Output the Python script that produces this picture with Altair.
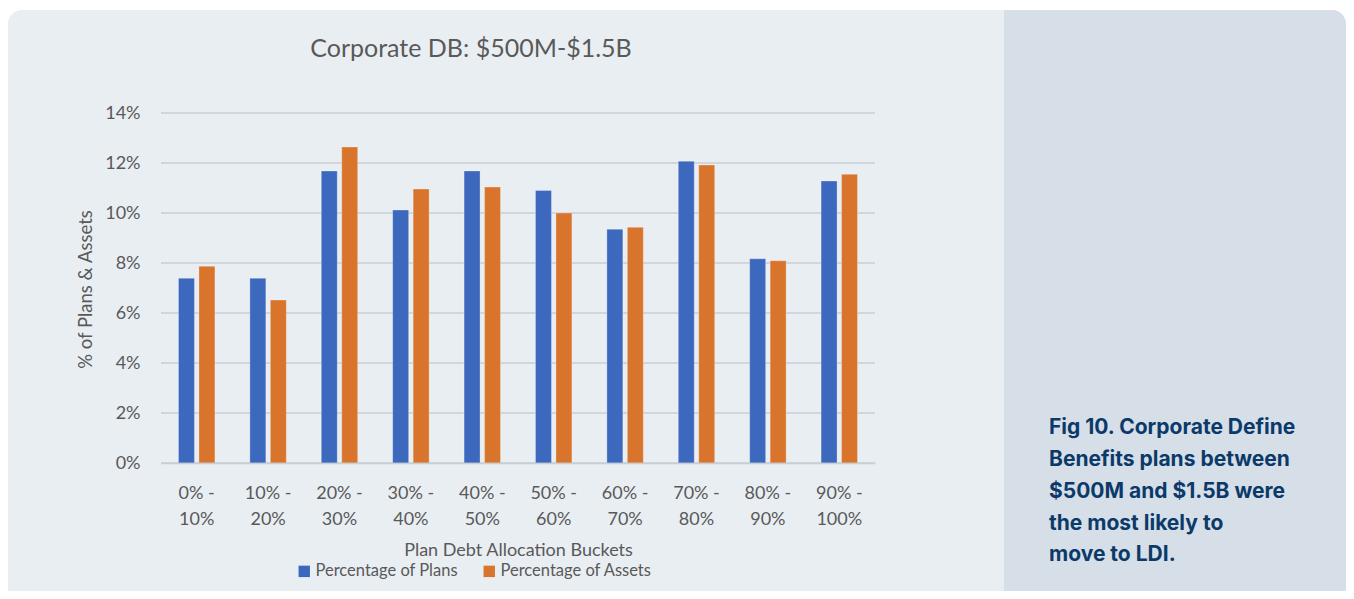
import altair as alt
import pandas as pd

# ---- data ----
categories = ["0% - 10%", "10% - 20%", "20% - 30%", "30% - 40%", "40% - 50%",
              "50% - 60%", "60% - 70%", "70% - 80%", "80% - 90%", "90% - 100%"]
pct_plans = [7.39, 7.39, 11.68, 10.12, 11.68, 10.90, 9.35, 12.07, 8.17, 11.28]
pct_assets = [7.87, 6.52, 12.64, 10.96, 11.04, 10.00, 9.43, 11.92, 8.09, 11.55]
series_names = ["Percentage of Plans", "Percentage of Assets"]
y_ticks = [0, 0.02, 0.04, 0.06, 0.08, 0.10, 0.12, 0.14]
chart_title = "Corporate DB: $500M-$1.5B"
caption_lines = ["Fig 10. Corporate Define", "Benefits plans between",
                 "$500M and $1.5B were", "the most likely to", "move to LDI."]

rows = []
for c, p, a in zip(categories, pct_plans, pct_assets):
    rows.append({"bucket": c, "series": series_names[0], "value": p / 100})
    rows.append({"bucket": c, "series": series_names[1], "value": a / 100})
df = pd.DataFrame(rows)

GRAY = "#595959"
GRID = "#c9ced4"
FONT = "Lato"
W, H = 714, 350
yscale = alt.Scale(domain=[0, 0.14], nice=False)

y_axis = alt.Axis(
    values=y_ticks, format=".0%", title="% of Plans & Assets",
    grid=False, domain=False, ticks=False,
    labelFont=FONT, labelFontSize=18, labelColor=GRAY, labelPadding=21,
    titleFont=FONT, titleFontSize=18.5, titleFontWeight="normal",
    titleColor=GRAY, titleAngle=-90, titleBaseline="alphabetic",
    titleAlign="center", titleX=-69.5, titleY=176, zindex=1)

one = alt.Data(values=[{}])

card = alt.Chart(one).mark_rect(color="#e9eef3", cornerRadius=14).encode(
    x=alt.value(-153), x2=alt.value(1185), y=alt.value(-103), y2=alt.value(540))

panel = alt.Chart(one).mark_rect(color="#d6dee7", cornerRadiusTopRight=14,
                                 cornerRadiusBottomRight=14).encode(
    x=alt.value(843), x2=alt.value(1185), y=alt.value(-103), y2=alt.value(540))

grid = alt.Chart(pd.DataFrame({"value": y_ticks})).mark_rule(
    color=GRID, strokeWidth=1.5).encode(
    y=alt.Y("value:Q", scale=yscale, axis=y_axis))

bars = alt.Chart(df).mark_bar(stroke="#ffffff", strokeWidth=0.8, strokeOpacity=0.35).encode(
    x=alt.X("bucket:N", sort=categories,
            scale=alt.Scale(paddingInner=0.49, paddingOuter=0.245),
            axis=alt.Axis(
                title="Plan Debt Allocation Buckets", labelAngle=0,
                labelExpr="[split(datum.label, ' - ')[0] + ' -', split(datum.label, ' - ')[1]]",
                labelFont=FONT, labelFontSize=18, labelColor=GRAY, labelLineHeight=26,
                labelPadding=21, ticks=False, domainColor=GRID, domainWidth=1.5,
                titleFont=FONT, titleFontSize=18, titleFontWeight="normal",
                titleColor=GRAY, titleBaseline="alphabetic", titleY=92, zindex=1)),
    xOffset=alt.XOffset("series:N", sort=series_names,
                        scale=alt.Scale(paddingInner=0.22)),
    y=alt.Y("value:Q", scale=yscale, axis=y_axis),
    color=alt.Color("series:N", sort=series_names,
                    scale=alt.Scale(domain=series_names, range=["#3C69BD", "#D8742C"]),
                    legend=alt.Legend(
                        title=None, orient="none", direction="horizontal",
                        legendX=135, legendY=450, symbolType="square", symbolSize=130,
                        symbolStrokeWidth=0, labelFont=FONT, labelFontSize=16.5,
                        labelColor=GRAY, labelOffset=3, columnPadding=23)),
)

title = alt.Chart(one).mark_text(
    text=chart_title, font=FONT, fontSize=25, color=GRAY,
    align="center", baseline="alphabetic").encode(
    x=alt.value(310), y=alt.value(-55.7))

caption = alt.Chart(one).mark_text(
    text=caption_lines, font="Inter", fontSize=21, fontWeight=700, color="#0B3A6A",
    align="left", baseline="alphabetic", lineHeight=31.8).encode(
    x=alt.value(888), y=alt.value(321.3))

chart = alt.layer(card, panel, grid, bars, title, caption).properties(
    width=W, height=H,
    background="white",
    padding={"left": 153, "top": 105, "right": 471, "bottom": 128},
    autosize=alt.AutoSizeParams(type="none"),
).configure_view(stroke=None)

chart.save("out.html", embed_options={"renderer": "svg", "actions": False})
